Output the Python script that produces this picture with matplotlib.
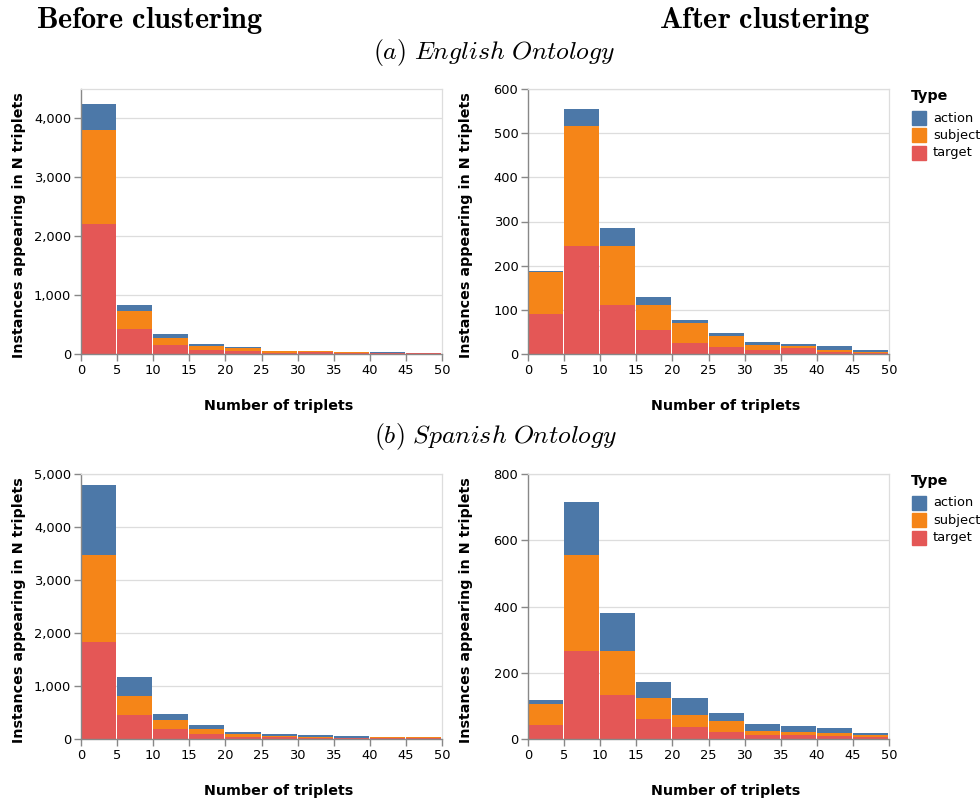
import matplotlib
matplotlib.use("Agg")
import matplotlib.pyplot as plt
from matplotlib.patches import Rectangle
from matplotlib.ticker import FuncFormatter
import numpy as np

plt.rcParams['mathtext.fontset'] = 'cm'
plt.rcParams['font.family'] = ['DejaVu Sans']

bins = [0, 5, 10, 15, 20, 25, 30, 35, 40, 45]
types = ["action", "subject", "target"]
colors = {"action": "#4c78a8", "subject": "#f58518", "target": "#e45756"}

# English ontology, before clustering
en_before_target = [2200, 425, 153, 68, 51, 20, 35, 17, 10, 10]
en_before_subject = [1610, 313, 119, 68, 51, 31, 8, 15, 6, 4]
en_before_action = [430, 96, 68, 34, 17, 2, 8, 2, 18, 3]
# English ontology, after clustering
en_after_target = [91, 245, 111, 54, 25, 16, 9, 14, 5, 2]
en_after_subject = [94, 272, 134, 57, 45, 25, 11, 4, 4, 3]
en_after_action = [2, 38, 41, 18, 7, 7, 7, 5, 9, 4]
# Spanish ontology, before clustering
es_before_target = [1833, 447, 183, 88, 38, 38, 25, 19, 15, 18]
es_before_subject = [1637, 359, 170, 95, 50, 25, 10, 8, 15, 15]
es_before_action = [1322, 359, 113, 75, 38, 25, 35, 23, 8, 5]
# Spanish ontology, after clustering
es_after_target = [41, 265, 132, 59, 35, 20, 11, 11, 8, 5]
es_after_subject = [64, 290, 133, 64, 37, 33, 12, 9, 9, 6]
es_after_action = [13, 160, 115, 48, 51, 25, 21, 18, 15, 6]

x_ticks = [0, 5, 10, 15, 20, 25, 30, 35, 40, 45, 50]
x_label = "Number of triplets"
y_label = "Instances appearing in N triplets"

W, H = 980, 800
fig = plt.figure(figsize=(W / 100, H / 100), dpi=100)

def fx(px):
    return px / W

def fy(py):
    return 1 - py / H

panels = [
    (en_before_target, en_before_subject, en_before_action, 4500, [0, 1000, 2000, 3000, 4000], 81, 89, 354),
    (en_after_target, en_after_subject, en_after_action, 600, [0, 100, 200, 300, 400, 500, 600], 528, 89, 354),
    (es_before_target, es_before_subject, es_before_action, 5000, [0, 1000, 2000, 3000, 4000, 5000], 81, 474, 739),
    (es_after_target, es_after_subject, es_after_action, 800, [0, 200, 400, 600, 800], 528, 474, 739),
]

tick_fs = 9.4
title_fs = 10.3
grid_c = "#dddddd"
axis_c = "#888888"

for tgt, sub, act, ymax, yticks, left_px, top_px, bot_px in panels:
    ax = fig.add_axes([fx(left_px), fy(bot_px), fx(361), (bot_px - top_px) / H])
    gap = 50 / 361 * 1.0
    w = 5 - gap
    tgt = np.array(tgt); sub = np.array(sub); act = np.array(act)
    ax.bar(bins, tgt, width=w, align='edge', color=colors["target"], linewidth=0, zorder=2)
    ax.bar(bins, sub, width=w, bottom=tgt, align='edge', color=colors["subject"], linewidth=0, zorder=2)
    ax.bar(bins, act, width=w, bottom=tgt + sub, align='edge', color=colors["action"], linewidth=0, zorder=2)
    ax.set_xlim(0, 50)
    ax.set_ylim(0, ymax)
    ax.set_xticks(x_ticks)
    ax.set_yticks(yticks)
    ax.yaxis.set_major_formatter(FuncFormatter(lambda v, p: f"{v:,.0f}"))
    ax.grid(True, axis='y', color=grid_c, linewidth=0.9, zorder=0)
    ax.set_axisbelow(True)
    for s in ['top', 'right']:
        ax.spines[s].set_color(grid_c)
        ax.spines[s].set_linewidth(0.9)
    for s in ['left', 'bottom']:
        ax.spines[s].set_color(axis_c)
        ax.spines[s].set_linewidth(1.0)
    ax.tick_params(axis='both', colors=axis_c, labelcolor='black', length=5, width=1.0,
                   labelsize=tick_fs, pad=2)
    # axis titles
    fig.text(fx(left_px + 198), fy(bot_px + 52), x_label, ha='center', va='center',
             fontsize=title_fs, fontweight='bold')
    fig.text(fx(left_px - 62), fy((top_px + bot_px) / 2 + 4), y_label, ha='center', va='center',
             rotation=90, fontsize=title_fs, fontweight='bold')
    # legend only for right panels
    if left_px > 300:
        fig.text(fx(911), fy(top_px + 7), "Type", ha='left', va='center',
                 fontsize=title_fs, fontweight='bold')
        for i, t in enumerate(types):
            y0 = top_px + 22 + i * 17.3
            fig.patches.append(Rectangle((fx(912), fy(y0 + 14)), fx(14), 14 / H,
                                         transform=fig.transFigure, color=colors[t]))
            fig.text(fx(933), fy(y0 + 7), t, ha='left', va='center', fontsize=tick_fs)

fig.text(fx(150), fy(21), r"$\mathbf{Before\ clustering}$", ha='center', va='center', fontsize=21.8)
fig.text(fx(765), fy(21), r"$\mathbf{After\ clustering}$", ha='center', va='center', fontsize=21.8)
fig.text(fx(494), fy(52), r"$\mathit{(a)\ English\ Ontology}$", ha='center', va='center', fontsize=18.5)
fig.text(fx(495), fy(437), r"$\mathit{(b)\ Spanish\ Ontology}$", ha='center', va='center', fontsize=18.5)

fig.savefig("out.png", dpi=100)
